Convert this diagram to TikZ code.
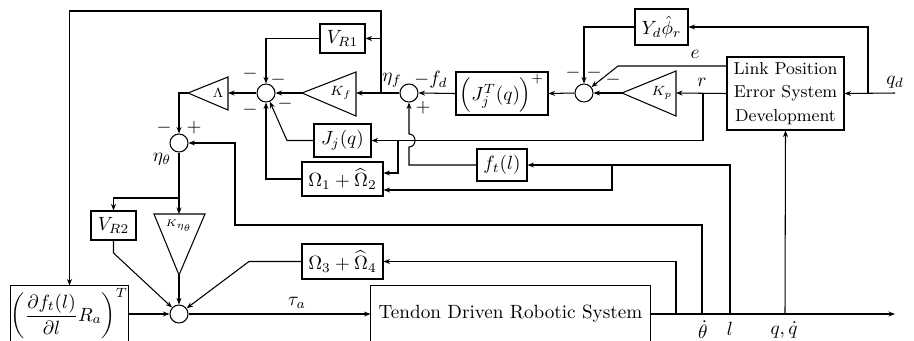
\documentclass[tikz,border=0pt]{standalone}
\usetikzlibrary{arrows.meta,calc}
\newlength\pxu \setlength\pxu{0.522pt}
\begin{document}
\begin{tikzpicture}[x=0.522pt,y=-0.522pt, line width=0.55pt,
  >={Stealth[length=3.4pt,width=2.6pt]},
  blk/.style={draw, inner sep=0pt, align=center},
  sumc/.style={draw, circle, minimum size=18\pxu, inner sep=0pt},
  lbl/.style={inner sep=0pt},
  tri/.style={draw, line join=miter}]
\useasboundingbox (0,0) rectangle (914,340);
% blocks
\node[blk, minimum width=45\pxu, minimum height=29\pxu] (vr1) at (342.5,38.5) {$V_{R1}$};
\node[sumc] (s1) at (266,93) {};
\node[sumc] (s2) at (409,93) {};
\node[sumc] (s3) at (179,143) {};
\node[sumc] (s4) at (179,314) {};
\node[sumc] (s5) at (584,93) {};
\node[blk, minimum width=57\pxu, minimum height=33\pxu] (jq) at (342.5,140.5) {$J_j(q)$};
\node[blk, minimum width=81\pxu, minimum height=34\pxu] (om12) at (342.5,179) {$\Omega_1+\widehat{\Omega}_2$};
\node[blk, minimum width=50\pxu, minimum height=32\pxu] (ft) at (502,165) {$f_t(l)$};
\node[blk, minimum width=81\pxu, minimum height=35\pxu] (om34) at (342.5,261.5) {$\Omega_3+\widehat{\Omega}_4$};
\node[blk, minimum width=45\pxu, minimum height=29\pxu] (vr2) at (113.5,225.5) {$V_{R2}$};
\node[blk, minimum width=92\pxu, minimum height=43\pxu] (jp) at (502,93.5) {$\Big(J_j^T(q)\Big)^+$};
\node[blk, minimum width=53\pxu, minimum height=36\pxu] (yd) at (661.5,27) {$Y_d\hat{\phi}_r$};
\node[blk, minimum width=117\pxu, minimum height=73\pxu, font=\small] (lp) at (785.5,93.5) {Link Position\\[1.2pt]Error System\\[1.2pt]Development};
\node[minimum width=279\pxu, minimum height=56\pxu, inner sep=0pt] (tds) at (510.5,314) {Tendon Driven Robotic System};
\draw (tds.south west) -- (tds.north west) -- (tds.north east) -- (tds.south east);
\node[minimum width=117\pxu, minimum height=56\pxu, inner sep=0pt] (bb) at (69.5,314) {$\displaystyle\left(\frac{\partial f_t(l)}{\partial l}R_a\right)^{T}$};
\draw (bb.south west) -- (bb.north west) -- (bb.north east) -- (bb.south east);
% triangles
\coordinate (kft) at (302,93); \coordinate (kfb) at (356,93);
\draw[tri] (kft) -- (356,72) -- (356,116) -- cycle;
\node[lbl] (kfl) at (341,93) {\scriptsize$K_f$};
\coordinate (lmt) at (188,93); \coordinate (lmb) at (228,93);
\draw[tri] (lmt) -- (228,77) -- (228,110) -- cycle;
\node[lbl] (lml) at (218,93) {\scriptsize$\Lambda$};
\coordinate (kpt) at (622,93); \coordinate (kpb) at (676,93);
\draw[tri] (kpt) -- (676,71) -- (676,116) -- cycle;
\node[lbl] (kpl) at (662,93) {\scriptsize$K_p$};
\coordinate (kht) at (179,214); \coordinate (khb) at (179,275);
\draw[tri] (154,214) -- (205,214) -- (khb) -- cycle;
\node[lbl] (khl) at (179,226) {\tiny$K_{\eta_\theta}$};
% connectors
\coordinate (j1) at (381,93);
\draw[->] (s2.west) -- (kfb);
\draw[->] (j1) -- (381,11) -| (bb.north);
\draw[->] (381,38.5) -- (vr1.east);
\draw[->] (vr1.west) -| (s1.north);
\draw[->] (kft) -- (s1.east);
\draw[->] (s1.west) -- (lmb);
\draw[->] (lmt) -| (s3.north);
\draw (s3.south) -- (179,198) coordinate (j3);
\draw[->] (j3) -- (kht);
\draw[->] (j3) -| (vr2.north);
\draw[->] (vr2.south) -- (113.5,253) -- (s4);
\draw[->] (khb) -- (s4.north);
\draw[->] (om34.west) -- (249,261.5) -- (s4);
\draw[->] (bb.east) -- (s4.west);
\draw[->] (s4.east) -- (tds.west);
\draw[->] (tds.east) -- (895,314);
\draw[->] (676,314) |- (om34.east);
\draw[->] (702,314) -- (702,225) -- (235,225) -- (235,143) -- (s3.east);
\draw[->] (730,314) |- (ft.east);
\draw[->] (612,165) -- (612,190) -- (om12.east |- 0,190);
\draw[->] (785,314) -- (lp.south);
\draw[->] (895,93) -- (lp.east);
\draw[->] (868,93) |- (yd.east);
\draw[->] (yd.west) -| (s5.north);
\draw[->] (lp.west |- 0,66) -- (618,66) -- (s5);
\draw[->] (lp.west) -- (kpb);
\draw[->] (kpt) -- (s5.east);
\draw[->] (s5.west) -- (jp.east);
\draw[->] (jp.west) -- (s2.east);
\draw[->] (703,93) |- (jq.east);
\draw[->] (398,140.5) |- (om12.east |- 0,173);
\draw[->] (ft.west) -- (409,165) -- (409,147) .. controls (417,147) and (417,134) .. (409,134) -- (s2.south);
\draw[->] (jq.west) -- (287,140.5) -- (s1);
\draw[->] (om12.west) -| (s1.south);
% labels
\node[lbl] (lef) at (392,80) {$\eta_f$};
\node[lbl] (lfd) at (431,80) {$-f_d$};
\node[lbl] (lp2) at (423,108) {$+$};
\node[lbl] (m1) at (250,74) {$-$};
\node[lbl] (m2) at (278,80) {$-$};
\node[lbl] (m3) at (285,104) {$-$};
\node[lbl] (m4) at (250,110) {$-$};
\node[lbl] (m5) at (164,128) {$-$};
\node[lbl] (p5) at (194,128) {$+$};
\node[lbl] (leth) at (162,159) {$\eta_\theta$};
\node[lbl] (ltau) at (297,303) {$\tau_a$};
\node[lbl] (lthd) at (703,330) {$\dot\theta$};
\node[lbl] (ll) at (730,329) {$l$};
\node[lbl] (lq) at (784,330) {$q,\dot q$};
\node[lbl] (lqd) at (895,82) {$q_d$};
\node[lbl] (le) at (695,54) {$e$};
\node[lbl] (lr) at (702,82) {$r$};
\node[lbl] (m6) at (573,73) {$-$};
\node[lbl] (m7) at (594,73) {$-$};
\node[lbl] (m8) at (613,80) {$-$};
\end{tikzpicture}
\end{document}
